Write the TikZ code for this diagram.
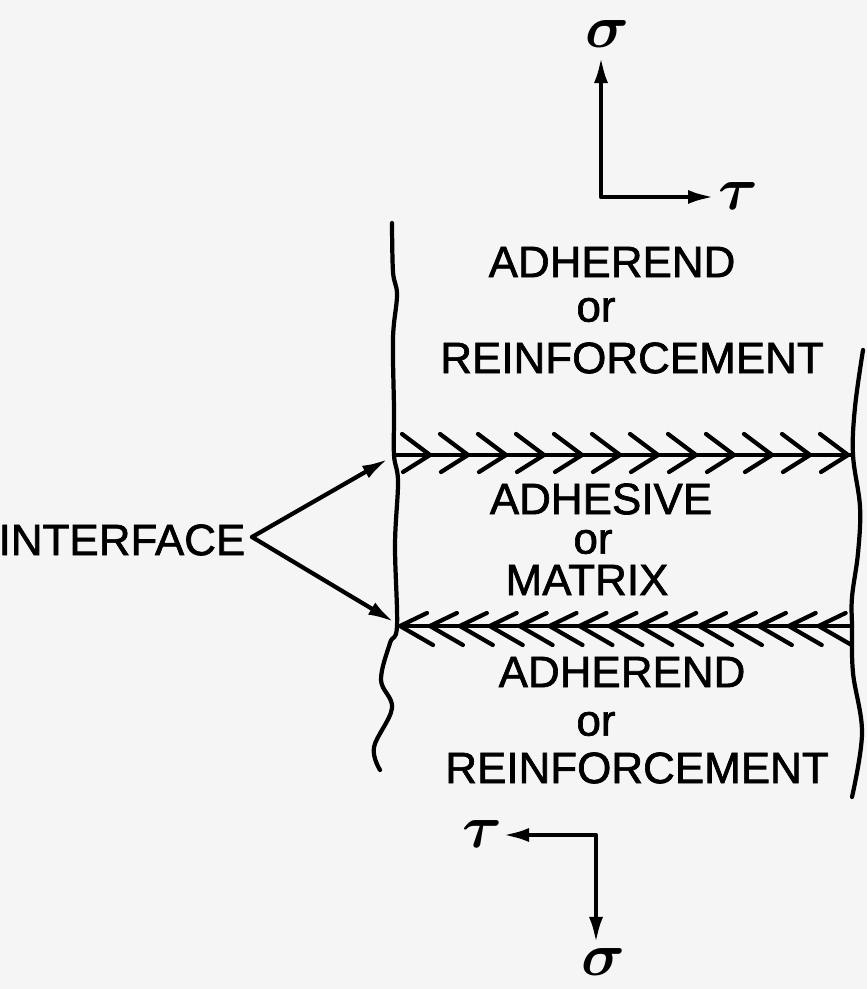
\documentclass[tikz,border=0pt]{standalone}
\usepackage{fontspec}
\setmainfont{Liberation Sans}
\newfontfamily\lettering{Liberation Sans}[FakeBold=1.5]
\usetikzlibrary{arrows.meta}

\begin{document}
\begin{tikzpicture}[
    x=0.01cm, y=-0.01cm,
    >={Latex[length=2.6mm,width=1.4mm]},
    pen/.style={line width=1.2pt, line cap=round, line join=round},
    lbl/.style={font=\lettering\fontsize{12.5}{15}\selectfont, inner sep=0pt},
    greek/.style={font=\fontsize{18}{20}\selectfont\boldmath, inner sep=0pt},
  ]
  %% ---- Page ----
  \fill[black!4] (0,0) rectangle (867,989);
  \useasboundingbox (0,0) rectangle (867,989);
  %% ---- Layer edges (torn ends) ----
  % left edge
  \draw[pen] plot[smooth, tension=0.6] coordinates {(392,223) (393,272) (397,295)
    (393,338) (394,410) (394,455) (398,482) (395,545) (397,626) (390,643)
    (381,680) (392,708) (374,747) (380,770)};
  % right edge
  \draw[pen] plot[smooth, tension=0.6] coordinates {(863,350) (855,407) (853,455)
    (860,507) (858,553) (852,597) (852,627) (853,673) (862,733) (852,797)};
  %% ---- Interfaces ----
  % upper interface, chevrons pointing right
  \draw[pen] (394,455) -- (853,455);
  \foreach \i in {0,...,11}{
    \pgfmathsetmacro\cx{430+38*\i}
    \draw[pen] (\cx-28,434) -- (\cx,455) -- (\cx-27,472);
  }
  % lower interface, chevrons pointing left
  \draw[pen] (397,626) -- (852,626);
  \foreach \i in {0,...,14}{
    \pgfmathsetmacro\cx{400+29.9*\i}
    \draw[pen] (\cx+27,613) -- (\cx,626) -- (\cx+33,645);
  }
  %% ---- Layer labels ----
  \node[lbl] (ad1) at (612,262) {ADHEREND};
  \node[lbl] (or1) at (596,310) {or};
  \node[lbl] (rf1) at (632,358) {REINFORCEMENT};
  \node[lbl] (adh) at (601,499) {ADHESIVE};
  \node[lbl] (or2) at (593,542) {or};
  \node[lbl] (mtx) at (587,580) {MATRIX};
  \node[lbl] (ad2) at (622,672) {ADHEREND};
  \node[lbl] (or3) at (596,724) {or};
  \node[lbl] (rf2) at (637,768) {REINFORCEMENT};
  %% ---- Interface pointer ----
  \node[lbl, anchor=east] (iface) at (246,540) {INTERFACE};
  \coordinate (apx) at (252,537);
  \coordinate (ifU) at (388,459);
  \coordinate (ifL) at (394,622);
  \draw[pen, ->] (apx) -- (ifU);
  \draw[pen, ->] (apx) -- (ifL);
  %% ---- Stress axes ----
  % top: sigma up, tau right
  \node[greek] (sigT) at (607,34) {$\sigma$};
  \node[greek] (tauT) at (738,196) {$\tau$};
  \coordinate (oT) at (601,197);
  \coordinate (sT) at (601,57);
  \coordinate (tT) at (714,197);
  \draw[pen, <->] (sT) -- (oT) -- (tT);
  % bottom: sigma down, tau left
  \node[greek] (tauB) at (482,834) {$\tau$};
  \node[greek] (sigB) at (603,962) {$\sigma$};
  \coordinate (oB) at (596,835);
  \coordinate (tB) at (503,835);
  \coordinate (sB) at (596,943);
  \draw[pen, <->] (tB) -- (oB) -- (sB);
\end{tikzpicture}
\end{document}
